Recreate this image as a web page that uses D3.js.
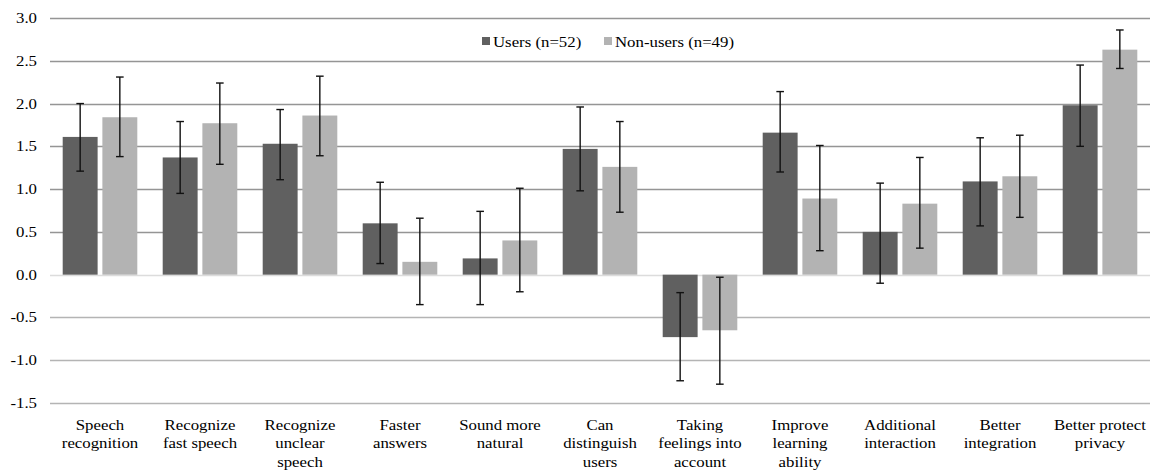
<!DOCTYPE html>
<html>
<head>
<meta charset="utf-8">
<script src="https://cdn.jsdelivr.net/npm/d3@7"></script>
<style>
  body { margin: 0; background: #fff; }
</style>
</head>
<body>
<svg id="chart" width="1153" height="470"></svg>
<script>
// categories and series
const categories = [
  ["Speech", "recognition"],
  ["Recognize", "fast speech"],
  ["Recognize", "unclear", "speech"],
  ["Faster", "answers"],
  ["Sound more", "natural"],
  ["Can", "distinguish", "users"],
  ["Taking", "feelings into", "account"],
  ["Improve", "learning", "ability"],
  ["Additional", "interaction"],
  ["Better", "integration"],
  ["Better protect", "privacy"]
];
const seriesNames = ["Users (n=52)", "Non-users (n=49)"];

const usersMean = [1.61, 1.37, 1.53, 0.60, 0.19, 1.47, -0.73, 1.66, 0.50, 1.09, 1.98];
const usersLow  = [1.21, 0.95, 1.11, 0.13, -0.35, 0.98, -1.24, 1.20, -0.10, 0.57, 1.50];
const usersHigh = [2.00, 1.79, 1.93, 1.08, 0.74, 1.96, -0.21, 2.14, 1.07, 1.60, 2.45];

const nonMean = [1.84, 1.77, 1.86, 0.15, 0.40, 1.26, -0.65, 0.89, 0.83, 1.15, 2.63];
const nonLow  = [1.38, 1.29, 1.39, -0.35, -0.20, 0.73, -1.28, 0.28, 0.31, 0.67, 2.41];
const nonHigh = [2.31, 2.24, 2.32, 0.66, 1.01, 1.79, -0.03, 1.51, 1.37, 1.63, 2.86];

const yTicks = [3.0, 2.5, 2.0, 1.5, 1.0, 0.5, 0.0, -0.5, -1.0, -1.5];

const colors = ["#606060", "#b3b3b3"];
const FONT = "Liberation Serif";
const FS = 15, SX = 1.12; // reference text is a little stretched sideways

const svg = d3.select("#chart");
const margin = {left: 50, right: 3, top: 18, bottom: 67};
const W = 1153, H = 470;

const x = d3.scaleBand()
  .domain(d3.range(categories.length))
  .range([margin.left, W - margin.right])
  .paddingInner(0.254)
  .paddingOuter(0.127);

const inner = d3.scaleBand()
  .domain([0, 1])
  .range([0, x.bandwidth()])
  .paddingInner(0.12);

const y = d3.scaleLinear()
  .domain([-1.5, 3.0])
  .range([H - margin.bottom, margin.top]);

// gridlines
svg.append("g")
  .selectAll("line")
  .data(yTicks)
  .join("line")
    .attr("x1", margin.left)
    .attr("x2", W - margin.right)
    .attr("y1", d => Math.round(y(d)) + 0.5)
    .attr("y2", d => Math.round(y(d)) + 0.5)
    .attr("stroke", d => d == 0 ? "#dcdcdc" : (d > 0 ? "#959595" : "#b4b4b4"))
    .attr("stroke-width", 1.3);

// y labels
svg.append("g")
  .attr("font-family", FONT).attr("font-size", FS)
  .selectAll("text")
  .data(yTicks)
  .join("text")
    .attr("transform", d => `translate(${margin.left - 13},${y(d) + 5}) scale(${SX},1)`)
    .attr("text-anchor", "end")
    .text(d => d3.format(".1f")(d).replace("−", "-"));

const series = [
  {mean: usersMean, low: usersLow, high: usersHigh},
  {mean: nonMean, low: nonLow, high: nonHigh}
];

series.forEach((s, si) => {
  const g = svg.append("g");
  g.selectAll("rect")
    .data(s.mean)
    .join("rect")
      .attr("x", (d, i) => x(i) + inner(si))
      .attr("width", inner.bandwidth())
      .attr("y", d => y(Math.max(0, d)))
      .attr("height", d => Math.abs(y(d) - y(0)))
      .attr("fill", colors[si]);

  // error bars
  const eb = svg.append("g").attr("stroke", "#111").attr("stroke-width", 1.4);
  s.mean.forEach((d, i) => {
    const cx = x(i) + inner(si) + inner.bandwidth() / 2;
    eb.append("line").attr("x1", cx).attr("x2", cx)
      .attr("y1", y(s.low[i])).attr("y2", y(s.high[i]));
    [s.low[i], s.high[i]].forEach(v => {
      eb.append("line").attr("x1", cx - 3.8).attr("x2", cx + 3.8)
        .attr("y1", y(v)).attr("y2", y(v));
    });
  });
});

// category labels
const xl = svg.append("g").attr("font-family", FONT).attr("font-size", FS);
categories.forEach((lines, i) => {
  const t = xl.append("text")
    .attr("transform", `translate(${x(i) + x.bandwidth() / 2},430) scale(${SX},1)`)
    .attr("text-anchor", "middle");
  lines.forEach((ln, k) => {
    t.append("tspan")
      .attr("x", 0)
      .attr("dy", k == 0 ? 0 : 18.5)
      .text(ln);
  });
});

// legend
const legend = svg.append("g").attr("font-family", FONT).attr("font-size", FS);
const legendX = [482, 604];
seriesNames.forEach((name, i) => {
  legend.append("rect")
    .attr("x", legendX[i]).attr("y", 37)
    .attr("width", 8).attr("height", 8)
    .attr("fill", colors[i]);
  legend.append("text")
    .attr("transform", `translate(${legendX[i] + 11},46.5) scale(${SX},1)`)
    .text(name);
});
</script>
</body>
</html>
